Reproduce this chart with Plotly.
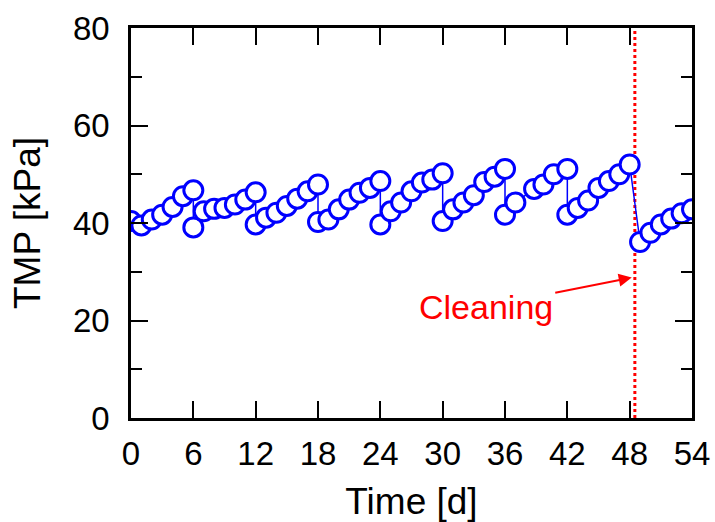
import plotly.graph_objects as go

# Transmembrane pressure record over the run (day, kPa)
days = [0, 1, 2, 3, 4, 5, 6, 6,
        7, 8, 9, 10, 11, 12, 12,
        13, 14, 15, 16, 17, 18, 18,
        19, 20, 21, 22, 23, 24, 24,
        25, 26, 27, 28, 29, 30, 30,
        31, 32, 33, 34, 35, 36, 36,
        37, 38.8, 39.7, 40.7, 42, 42,
        43, 44, 45, 46, 47, 48,
        49, 50, 51, 52, 53, 54]
tmp = [40.4, 39.5, 40.7, 41.7, 43.3, 45.5, 46.7, 39.1,
       42.4, 42.9, 43.1, 43.8, 44.8, 46.3, 39.7,
       41.1, 42.1, 43.5, 45.0, 46.5, 47.9, 40.2,
       40.7, 42.8, 44.8, 46.2, 47.2, 48.6, 39.7,
       42.4, 44.2, 46.5, 48.3, 48.9, 50.2, 40.4,
       42.8, 44.2, 45.7, 48.4, 49.5, 51.1, 41.7,
       44.2, 47.0, 47.9, 50.0, 51.1, 41.7,
       43.1, 44.6, 47.2, 48.6, 50.0, 52.0,
       36.1, 38.0, 39.7, 40.9, 42.0, 42.8]

cleaning_day = 48.5
x_ticks = [0, 6, 12, 18, 24, 30, 36, 42, 48, 54]
y_ticks = [0, 20, 40, 60, 80]

FONT = "Liberation Sans, Arial, sans-serif"
BLUE = "#0000ff"
RED = "#ff0000"

fig = go.Figure()

# Chemical cleaning marker
fig.add_trace(go.Scatter(
    x=[cleaning_day, cleaning_day], y=[0, 80], mode="lines",
    line=dict(color=RED, width=3, dash="3px,3px"),
    hoverinfo="skip", showlegend=False,
))

fig.add_trace(go.Scatter(
    x=days, y=tmp, mode="lines+markers",
    line=dict(color=BLUE, width=1.5),
    marker=dict(symbol="circle", size=19, color="white",
                line=dict(color=BLUE, width=3)),
    showlegend=False,
))

fig.add_annotation(
    x=48.2, y=28.8, xref="x", yref="y",
    text="Cleaning", font=dict(family=FONT, size=34, color=RED),
    showarrow=True, arrowhead=2, arrowsize=1.3, arrowwidth=2,
    arrowcolor=RED, ax=-146, ay=29, borderpad=2,
)

axis_common = dict(
    showline=True, linecolor="black", linewidth=2.5, mirror="ticks",
    ticks="inside", tickcolor="black", tickwidth=2, ticklen=17,
    showgrid=False, zeroline=False, automargin=False,
    tickfont=dict(family=FONT, size=33, color="black"),
)

fig.update_xaxes(
    range=[0, 54], tickvals=x_ticks,
    title=dict(text="Time [d]", font=dict(family=FONT, size=37, color="black"), standoff=24),
    ticklabelstandoff=5,
    **axis_common,
)
fig.update_yaxes(
    range=[0, 80], tickvals=y_ticks,
    minor=dict(ticks="inside", ticklen=11, tickwidth=2, tickcolor="black", dtick=10, tick0=0),
    title=dict(text="TMP [kPa]", font=dict(family=FONT, size=37, color="black"), standoff=21),
    ticklabelstandoff=12,
    **axis_common,
)

fig.update_layout(
    width=715, height=522,
    margin=dict(l=131, r=23, t=28, b=104),
    plot_bgcolor="white", paper_bgcolor="white",
    font=dict(family=FONT),
)

fig.write_html("out.html")
